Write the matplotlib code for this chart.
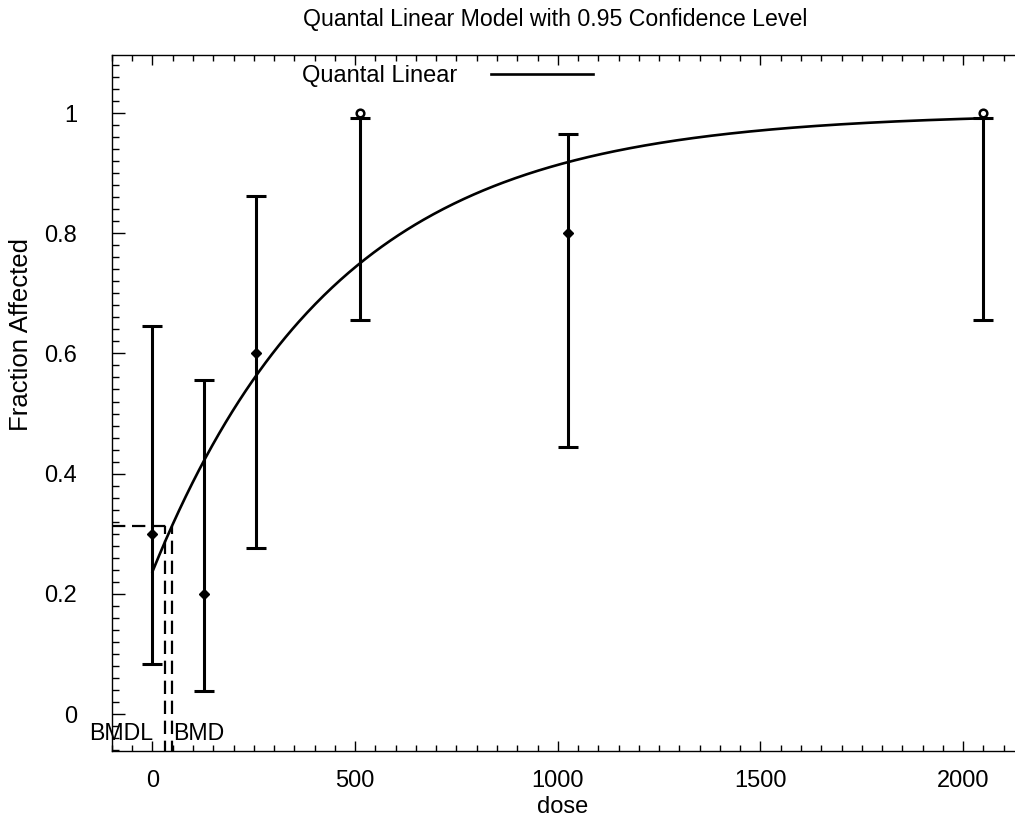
import numpy as np
import matplotlib
matplotlib.use("Agg")
import matplotlib.pyplot as plt
from matplotlib.ticker import MultipleLocator, FormatStrFormatter

plt.rcParams['font.family'] = ['Liberation Sans', 'DejaVu Sans']

# observed data
dose = [0, 128, 256, 512, 1024, 2048]
frac = [0.3, 0.2, 0.6, 1.0, 0.8, 1.0]
lower = [0.084, 0.038, 0.276, 0.656, 0.444, 0.656]
upper = [0.646, 0.556, 0.862, 0.991, 0.965, 0.991]

# fitted quantal linear model
background = 0.237
slope = 0.00218
bmr_level = 0.313
bmd = 48.3
bmdl = 32.0

fig = plt.figure(figsize=(10.15, 8.25), dpi=100)
ax = fig.add_axes([0.1103, 0.0897, 0.8985, 0.8436])

# confidence bars (upper limit can sit below an observed 1.0)
ax.vlines(dose, lower, upper, color='black', lw=2.2, zorder=2)
ax.plot(dose, lower, '_', color='black', ms=15, mew=2.2, zorder=2)
ax.plot(dose, upper, '_', color='black', ms=15, mew=2.2, zorder=2)

# points (open markers where fraction is 1)
for d, f in zip(dose, frac):
    if f >= 1.0:
        ax.plot(d, f, 'o', ms=5.5, mfc='white', mec='black', mew=1.8, zorder=4)
    else:
        ax.plot(d, f, 'D', ms=5, color='black', zorder=4)

# model curve
xs = np.linspace(0, 2048, 500)
ys = background + (1 - background) * (1 - np.exp(-slope * xs))
ax.plot(xs, ys, color='black', lw=1.9, label='Quantal Linear', zorder=3)

# BMD / BMDL markers
dash = (0, (6, 3))
ax.plot([-100, bmd], [bmr_level, bmr_level], color='black', lw=1.6, linestyle=dash)
ax.plot([bmd, bmd], [-0.1, bmr_level], color='black', lw=1.6, linestyle=dash)
ax.plot([bmdl, bmdl], [-0.1, bmr_level], color='black', lw=1.6, linestyle=dash)
ax.annotate('BMDL', xy=(bmdl, -0.032), xytext=(-9, 0), textcoords='offset points',
            ha='right', va='center', fontsize=16.7)
ax.annotate('BMD', xy=(bmd, -0.032), xytext=(1, 0), textcoords='offset points',
            ha='left', va='center', fontsize=16.7)

ax.set_xlim(-100, 2150)
ax.set_ylim(-0.0615, 1.0965)

ax.xaxis.set_major_locator(MultipleLocator(500))
ax.xaxis.set_minor_locator(MultipleLocator(50))
ax.yaxis.set_major_locator(MultipleLocator(0.2))
ax.yaxis.set_minor_locator(MultipleLocator(0.02))
ax.yaxis.set_major_formatter(FormatStrFormatter('%g'))

ax.tick_params(which='both', direction='in', top=True, right=False, width=1,
               labelsize=17)
ax.tick_params(axis='x', which='major', length=7, pad=14)
ax.tick_params(axis='x', which='minor', length=4)
ax.tick_params(axis='y', which='major', length=9, pad=25)
ax.tick_params(axis='y', which='minor', length=5)
for s in ax.spines.values():
    s.set_linewidth(1)

ax.set_xlabel('dose', fontsize=17)
ax.set_ylabel('Fraction Affected', fontsize=18.5)
ax.xaxis.set_label_coords(0.494, -0.065)
ax.yaxis.set_label_coords(-0.087, 0.599)

fig.text(0.547, 0.976, 'Quantal Linear Model with 0.95 Confidence Level',
         ha='center', va='center', fontsize=16.7)

ax.legend(loc='upper left', bbox_to_anchor=(0.2083, 0.985), frameon=False,
          markerfirst=False, handlelength=4.3, handletextpad=1.44,
          borderpad=0, borderaxespad=0, fontsize=17)

fig.savefig('out.png', dpi=100)
